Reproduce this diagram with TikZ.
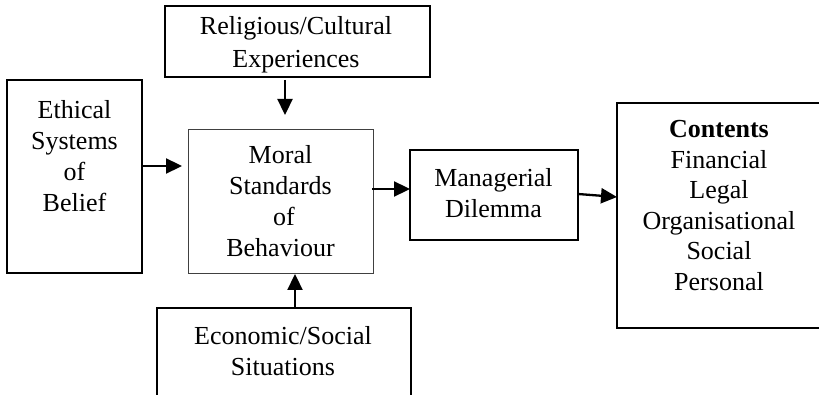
\documentclass[tikz,border=0pt]{standalone}
\usepackage{fontspec}
\setmainfont{Liberation Serif}
\usetikzlibrary{arrows.meta}
\begin{document}
\begin{tikzpicture}[x=1pt,y=-1pt,
  box/.style={draw=black,line width=2.2pt,inner sep=0pt,outer sep=0pt},
  thinbox/.style={draw=black!75,line width=0.9pt,inner sep=0pt,outer sep=0pt},
  txt/.style={align=center,inner sep=0pt,font=\fontsize{26}{31}\selectfont},
  arr/.style={line width=2.3pt,-{Triangle[length=16pt,width=15pt]}}]
\useasboundingbox (0,0) rectangle (819,395);
\clip (0,0) rectangle (819,395);

% boxes
\node[box,minimum width=265pt,minimum height=71pt] (rel) at (297.5,41.5) {};
\node[box,minimum width=135pt,minimum height=193pt] (eth) at (74.5,176.5) {};
\node[thinbox,minimum width=185pt,minimum height=144pt] (mor) at (280.5,201) {};
\node[box,minimum width=168pt,minimum height=90pt] (man) at (494,195) {};
\node[box,minimum width=204pt,minimum height=225pt] (con) at (719,215.5) {};
\node[box,minimum width=254pt,minimum height=102pt] (eco) at (284,359) {};

% labels (anchored at the baseline of their last line)
\node[txt,anchor=base,font=\fontsize{26}{33}\selectfont] (relT) at (296,68) {Religious/Cultural\\Experiences};
\node[txt,anchor=base] (ethT) at (74.5,212) {Ethical\\Systems\\of\hspace*{6pt}\\Belief};
\node[txt,anchor=base] (morT) at (280.5,257) {Moral\\Standards\\\hspace*{7pt}of\\Behaviour};
\node[txt,anchor=base] (manT) at (493.5,218) {Managerial\\Dilemma};
\node[txt,anchor=base,font=\fontsize{26}{30.5}\selectfont] (conT) at (719,290.5) {\textbf{Contents}\\Financial\\Legal\\Organisational\\Social\\Personal};
\node[txt,anchor=base] (ecoT) at (283,375) {Economic/Social\\Situations};

% connectors
\draw[arr] ([xshift=-12.5pt,yshift=-3pt]rel.south) -- ([xshift=4.5pt,yshift=14pt]mor.north);
\draw[arr] ([yshift=10.5pt]eth.east) -- ([xshift=-6pt,yshift=35pt]mor.west);
\draw[arr] ([xshift=11pt]eco.north) -- ([xshift=14.5pt,yshift=-1pt]mor.south);
\draw[arr] ([xshift=-1pt,yshift=12pt]mor.east) -- ([yshift=6pt]man.west);
\draw[arr] ([yshift=1pt]man.east) -- ([yshift=18.5pt]con.west);
\end{tikzpicture}
\end{document}
